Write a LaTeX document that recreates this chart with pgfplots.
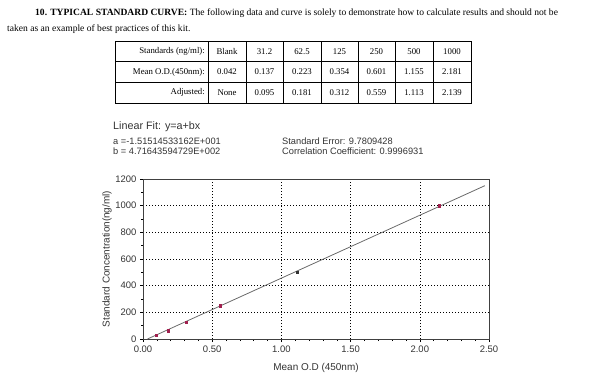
\documentclass[border=0pt]{standalone}
\usepackage{fontspec}
\setmainfont{Liberation Serif}
\newfontfamily\arial{Liberation Sans}
\usepackage{pgfplots}
\pgfplotsset{compat=1.18}
\definecolor{ptred}{HTML}{A0204E}
\definecolor{linegray}{HTML}{6A6A6A}
\definecolor{txtgray}{HTML}{333333}
\begin{document}
\begin{tikzpicture}[x=1bp,y=1bp]
\useasboundingbox (0,0) rectangle (600,-377);
% header text
\node[anchor=west, inner sep=0] at (35,-13) {\fontsize{9.6}{11}\selectfont\textbf{10. TYPICAL STANDARD CURVE:} The following data and curve is solely to demonstrate how to calculate results and should not be};
\node[anchor=west, inner sep=0] at (7,-29) {\fontsize{9.6}{11}\selectfont taken as an example of best practices of this kit.};
% table
\def\tt{-41}\def\tb{-103}
\draw[line width=0.9bp] (115,\tt) rectangle (471,\tb);
\foreach \xx in {208,246,283,321,358,395,433}{\draw[line width=0.7bp] (\xx,\tt) -- (\xx,\tb);}
\draw[line width=0.7bp] (115,-61.7) -- (471,-61.7);
\draw[line width=0.7bp] (115,-82.3) -- (471,-82.3);
\begin{scope}[every node/.style={inner sep=0, font=\fontsize{8.8}{10}\selectfont}]
\node[anchor=east] at (205,-51.3) {Standards (ng/ml):};
\node[anchor=east] at (205,-72) {Mean O.D.(450nm):};
\node[anchor=east] at (205,-92.6) {Adjusted:};
\foreach \cx/\a/\b/\c in {227/Blank/0.042/None, 264.5/31.2/0.137/0.095, 302/62.5/0.223/0.181, 339.5/125/0.354/0.312, 376.5/250/0.601/0.559, 414/500/1.155/1.113, 452/1000/2.181/2.139}{
  \node at (\cx,-51.3) {\a};
  \node at (\cx,-72) {\b};
  \node at (\cx,-92.6) {\c};
}
\end{scope}
% fit text
\begin{scope}[every node/.style={inner sep=0, anchor=west, text=txtgray}]
\node at (113,-127) {\arial\fontsize{10.8}{12}\selectfont Linear Fit: y=a+bx};
\node at (113,-141.5) {\arial\fontsize{9.3}{10}\selectfont a =-1.51514533162E+001};
\node at (113,-151.5) {\arial\fontsize{9.3}{10}\selectfont b = 4.71643594729E+002};
\node at (282,-141.5) {\arial\fontsize{9.3}{10}\selectfont Standard Error: 9.7809428};
\node at (282,-151.5) {\arial\fontsize{9.3}{10}\selectfont Correlation Coefficient: 0.9996931};
\end{scope}
\begin{axis}[
  at={(143bp,-339bp)}, anchor=south west,
  scale only axis, width=346bp, height=160bp,
  xmin=0, xmax=2.5, ymin=0, ymax=1200,
  xtick={0,0.5,1,1.5,2,2.5},
  ytick={0,200,400,600,800,1000,1200},
  minor x tick num=4, minor y tick num=1,
  xtick pos=lower, ytick pos=left,
  tick align=outside,
  major tick length=3bp, minor tick length=2bp,
  every tick/.style={black, line width=0.5bp},
  grid=major,
  major grid style={black, line width=0.5bp, dash pattern=on 1bp off 2bp},
  axis line style={line width=0.8bp, black!75},
  /pgf/number format/assume math mode=true,
  xticklabel style={/pgf/number format/fixed, /pgf/number format/fixed zerofill, /pgf/number format/precision=2, font=\arial\fontsize{9.5}{10}\selectfont, text=txtgray},
  yticklabel style={/pgf/number format/fixed, /pgf/number format/1000 sep={}, font=\arial\fontsize{9.5}{10}\selectfont, text=txtgray},
  scaled x ticks=false, scaled y ticks=false,
  xlabel={Mean O.D (450nm)},
  ylabel={Standard Concentration(ng/ml)},
  every axis x label/.style={at={(axis description cs:0.5,-0.181)}, anchor=center, font=\arial\fontsize{10}{11}\selectfont, text=txtgray},
  every axis y label/.style={at={(axis description cs:-0.104,0.5)}, rotate=90, anchor=center, font=\arial\fontsize{10}{11}\selectfont, text=txtgray},
  clip=false,
]
\addplot[linegray, line width=0.8bp] coordinates {(0.032,0) (2.47,1150)};
\addplot[only marks, mark=square*, mark size=1.1bp, ptred] coordinates {(0.095,31.2) (0.181,62.5) (0.312,125) (0.559,250) (2.139,1000)};
\addplot[only marks, mark=square*, mark size=1.1bp, black!80] coordinates {(1.113,500)};
\end{axis}
\end{tikzpicture}
\end{document}
